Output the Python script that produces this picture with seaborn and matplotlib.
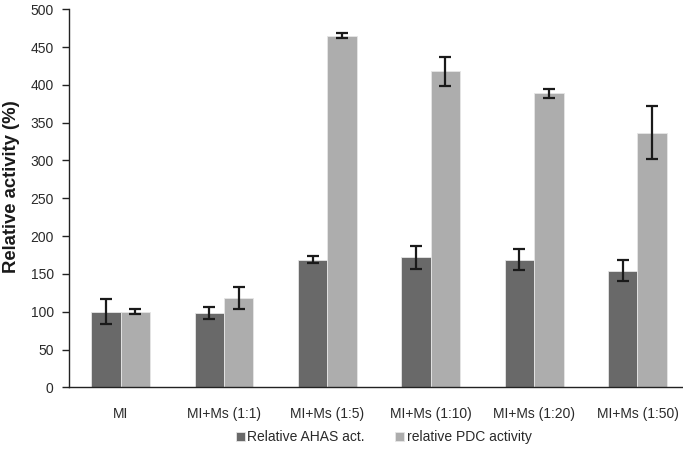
import numpy as np
import pandas as pd
import matplotlib
matplotlib.use("Agg")
import matplotlib.pyplot as plt
import seaborn as sns

# values
categories = ["MI", "MI+Ms (1:1)", "MI+Ms (1:5)", "MI+Ms (1:10)", "MI+Ms (1:20)", "MI+Ms (1:50)"]
series_names = ["Relative AHAS act.", "relative PDC activity"]
ahas_values = [100, 98, 169, 172, 169, 154]
ahas_errors = [16.5, 8, 5, 15.5, 14, 14]
pdc_values = [100, 118, 465, 418, 389, 337]
pdc_errors = [3, 15, 3.5, 19, 6, 35]
y_ticks = [0, 50, 100, 150, 200, 250, 300, 350, 400, 450, 500]

sns.set_style("white")
plt.rcParams["font.family"] = ["Liberation Sans", "DejaVu Sans"]

df = pd.DataFrame({
    "category": categories * 2,
    "series": [series_names[0]] * len(categories) + [series_names[1]] * len(categories),
    "value": ahas_values + pdc_values,
})
errors = {series_names[0]: ahas_errors, series_names[1]: pdc_errors}

fig = plt.figure(figsize=(6.83, 4.53), dpi=100)
ax = fig.add_axes([0.101, 0.145, 0.908, 0.8345])

palette = {series_names[0]: "#696969", series_names[1]: "#adadad"}
sns.barplot(data=df, x="category", y="value", hue="series", order=categories,
            hue_order=series_names, palette=palette, width=0.57, gap=0,
            errorbar=None, edgecolor="#e6e6e6", linewidth=0.6, saturation=1,
            ax=ax)

# error bars placed on the drawn bars
for container, name in zip(ax.containers, series_names):
    xs = [p.get_x() + p.get_width() / 2 for p in container.patches]
    hs = [p.get_height() for p in container.patches]
    ax.errorbar(xs, hs, yerr=errors[name], fmt="none", ecolor="#1a1a1a",
                elinewidth=1.6, capsize=4, capthick=1.6, zorder=5)

ax.set_ylim(0, 500)
ax.set_xlim(-0.5, len(categories) - 0.5)
ax.set_yticks(y_ticks)
ax.set_xlabel("")
ax.set_ylabel("Relative activity (%)", fontsize=13.3, fontweight="bold", color="#1a1a1a")
ax.yaxis.set_label_coords(-0.079, 0.532)

for side in ["top", "right"]:
    ax.spines[side].set_visible(False)
for side in ["left", "bottom"]:
    ax.spines[side].set_color("#222222")
    ax.spines[side].set_linewidth(1.0)

ax.set_xticks(np.arange(len(categories)) + 0.5, minor=True)
ax.tick_params(axis="x", which="major", length=0, pad=14, labelsize=10, labelcolor="#2a2a2a")
ax.tick_params(axis="x", which="minor", length=5, width=1, color="#222222", direction="out")
ax.tick_params(axis="y", length=5, width=1, color="#222222", direction="out",
               labelsize=10, labelcolor="#2a2a2a", left=True, pad=6)

ax.legend(loc="center", bbox_to_anchor=(0.562, 0.035), bbox_transform=fig.transFigure,
          ncol=2, frameon=False, fontsize=10, handlelength=0.6, handleheight=0.6,
          handletextpad=0.2, columnspacing=2.2, labelcolor="#2a2a2a")

fig.savefig("out.png", dpi=100)
